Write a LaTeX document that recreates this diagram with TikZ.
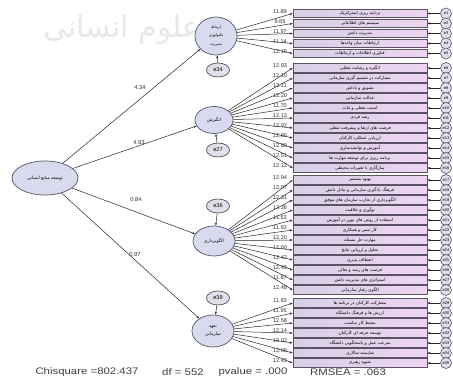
\documentclass[tikz,border=0pt]{standalone}
\usepackage{graphicx}
\usepackage{fontspec}
\setmainfont{Liberation Sans}
\newfontfamily\arabicfont[Script=Arabic]{DejaVu Sans}
\TeXXeTstate=1
\usetikzlibrary{shapes.geometric,arrows.meta}
\newcommand\faT[1]{{\arabicfont\beginR #1\endR}}
\definecolor{boxL}{HTML}{D8D0E6}
\definecolor{boxR}{HTML}{EDD4F0}
\definecolor{boxline}{HTML}{5C5266}
\definecolor{latfill}{HTML}{DADAEE}
\definecolor{latline}{HTML}{55556A}
\definecolor{errfill}{HTML}{E0E0EA}
\tikzset{
  ind/.style={draw=boxline, line width=0.7pt, left color=boxL, right color=boxR,
    minimum width=134pt, minimum height=8.6pt, inner sep=0pt,
    font=\fontsize{4.3}{5}\selectfont},
  lat/.style={ellipse, draw=latline, line width=0.7pt, fill=latfill, inner sep=0pt,
    align=center, font=\fontsize{4.4}{6.6}\selectfont},
  err/.style={ellipse, draw=latline, line width=0.6pt, fill=errfill, inner sep=0pt,
    minimum width=11pt, minimum height=11pt, font=\fontsize{4}{4}\selectfont},
  lerr/.style={ellipse, draw=latline, line width=0.7pt, fill=errfill, inner sep=0pt,
    minimum width=23pt, minimum height=14pt, font=\fontsize{5.5}{6}\selectfont},
  arr/.style={-{Stealth[length=3pt,width=2.2pt]}, line width=0.5pt, draw=black!85},
  lab/.style={font=\fontsize{5.6}{6}\selectfont, inner sep=0pt, text=black!80},
  plab/.style={font=\fontsize{5.8}{6}\selectfont, inner sep=0pt, text=black!80},
  stat/.style={font=\fontsize{9.5}{10}\selectfont, inner sep=0pt, text=black!75}
}
\begin{document}
\begin{tikzpicture}[x=1pt,y=-1pt]
\useasboundingbox (0,0) rectangle (453,380);
\fill[white] (0,0) rectangle (453,380);
% watermark
\node[font=\fontsize{30}{32}\selectfont, text=black!9, inner sep=0pt] (wm) at (122,30) {\faT{علوم انسانی}};

% main latent
\node[lat, minimum width=66pt, minimum height=34pt] (M) at (45,178) {\faT{توسعه منابع انسانی}};
% first-order latents
\node[lat, minimum width=42pt, minimum height=38pt, font=\fontsize{3.8}{8.6}\selectfont] (L1) at (216,36) {\faT{ارتباط}\\\faT{تکنولوژی}\\\faT{مدیریت}};
\node[lat, minimum width=38pt, minimum height=27pt] (L2) at (214,120) {\faT{انگیزش}};
\node[lat, minimum width=42pt, minimum height=30pt] (L3) at (214,241) {\faT{الگوبرداری}};
\node[lat, minimum width=42pt, minimum height=32pt, font=\fontsize{4.4}{8.6}\selectfont] (L4) at (213,331) {\faT{تعهد}\\\faT{سازمانی}};
% disturbances
\node[lerr] (d1) at (218,70) {e34};
\node[lerr] (d2) at (218,150) {e27};
\node[lerr] (d3) at (218,206) {e36};
\node[lerr] (d4) at (218,298) {e39};
\draw[arr] (d1) -- (L1);
\draw[arr] (d2) -- (L2);
\draw[arr] (d3) -- (L3);
\draw[arr] (d4) -- (L4);
% structural paths
\draw[arr] (M) -- (L1);
\draw[arr] (M) -- (L2);
\draw[arr] (M) -- (L3);
\draw[arr] (M) -- (L4);
\node[plab] (p1) at (140,88) {4.34};
\node[plab] (p2) at (139,143) {4.93};
\node[plab] (p3) at (136,200) {0.84};
\node[plab] (p4) at (135,255) {0.97};

% group 1
\foreach \txt/\val [count=\i] in {برنامه ریزی استراتژیک/11.89, سیستم های اطلاعاتی/9.69, مدیریت دانش/11.97, ارتباطات میان واحدها/11.14, فناوری اطلاعات و ارتباطات/12.15}{
  \pgfmathsetmacro\yy{3.5+10*\i}
  \node[ind] (A\i) at (360,\yy) {\faT{\txt}};
  \node[err] (eA\i) at (446,\yy) {e\i};
  \draw[arr] (eA\i) -- (A\i);
  \draw[arr] (L1) -- (A\i.west);
  \node[lab] at (280,\yy-2.2) {\val};
}
% group 2
\foreach \txt/\val [count=\i] in {انگیزه و رضایت شغلی/12.93, مشارکت در تصمیم گیری سازمانی/12.10, تشویق و پاداش/12.11, عدالت سازمانی/12.20, امنیت شغلی و ثبات/11.70, رشد فردی/12.13, فرصت های ارتقا و پیشرفت شغلی/12.92, ارزیابی عملکرد کارکنان/12.86, آموزش و توانمندسازی/12.80, برنامه ریزی برای توسعه مهارت ها/12.51, سازگاری با تغییرات محیطی/12.12}{
  \pgfmathsetmacro\yy{58+10*\i}
  \pgfmathtruncatemacro\k{\i+5}
  \node[ind] (B\i) at (360,\yy) {\faT{\txt}};
  \node[err] (eB\i) at (446,\yy) {e\k};
  \draw[arr] (eB\i) -- (B\i);
  \draw[arr] (L2) -- (B\i.west);
  \node[lab] at (280,\yy-2.2) {\val};
}
% group 3
\foreach \txt/\val [count=\i] in {بهبود مستمر/12.94, فرهنگ یادگیری سازمانی و تبادل دانش/12.07, الگوبرداری از تجارب سازمان های موفق/12.31, نوآوری و خلاقیت/12.36, استفاده از روش های نوین در آموزش/11.63, کار تیمی و همکاری/11.92, مهارت حل مسئله/12.20, تحلیل و ارزیابی نتایج/12.60, انعطاف پذیری/12.42, فرصت های رشد و تعالی/12.45, استراتژی های مدیریت دانش/11.87, الگوی رفتار سازمانی/12.48}{
  \pgfmathsetmacro\yy{170+10*\i}
  \pgfmathtruncatemacro\k{\i+16}
  \node[ind] (C\i) at (360,\yy) {\faT{\txt}};
  \node[err] (eC\i) at (446,\yy) {e\k};
  \draw[arr] (eC\i) -- (C\i);
  \draw[arr] (L3) -- (C\i.west);
  \node[lab] at (280,\yy-2.2) {\val};
}
% group 4
\foreach \txt/\val [count=\i] in {مشارکت کارکنان در برنامه ها/11.93, ارزش ها و فرهنگ دانشگاه/11.95, محیط کار مناسب/12.58, توسعه حرفه ای کارکنان/12.14, سرعت عمل و پاسخگویی دانشگاه/13.02, شایسته سالاری/12.08, شیوه رهبری/12.43}{
  \pgfmathsetmacro\yy{293+10*\i}
  \pgfmathtruncatemacro\k{\i+28}
  \node[ind] (D\i) at (360,\yy) {\faT{\txt}};
  \node[err] (eD\i) at (446,\yy) {e\k};
  \draw[arr] (eD\i) -- (D\i);
  \draw[arr] (L4) -- (D\i.west);
  \node[lab] at (280,\yy-2.2) {\val};
}

% fit statistics
\node[stat] (s1) at (87,372) {\scalebox{1.2}[1]{Chisquare =802.437}};
\node[stat] (s2) at (183,372) {\scalebox{1.2}[1]{df = 552}};
\node[stat] (s3) at (253,372) {\scalebox{1.2}[1]{pvalue = .000}};
\node[stat] (s4) at (348,372) {\scalebox{1.2}[1]{RMSEA = .063}};
\end{tikzpicture}
\end{document}
